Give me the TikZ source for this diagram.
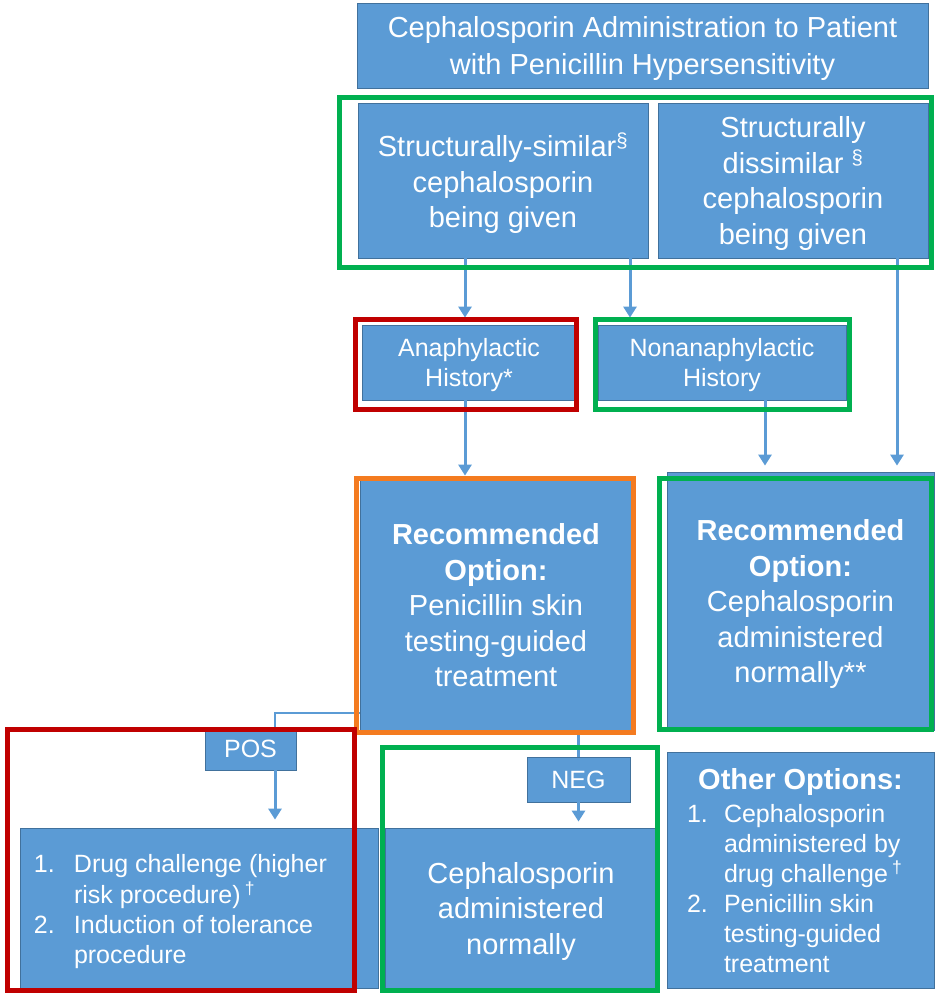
\documentclass[tikz,border=0pt]{standalone}
\usepackage{fontspec}
\setmainfont{Liberation Sans}
\usetikzlibrary{arrows.meta}
\definecolor{boxblue}{HTML}{5B9BD5}
\definecolor{boxline}{HTML}{41719C}
\definecolor{okgreen}{HTML}{00B050}
\definecolor{riskred}{HTML}{C00000}
\definecolor{testorange}{HTML}{F47B20}

\begin{document}
\begin{tikzpicture}[x=1pt, y=-1pt,
    >={Triangle[width=13pt,length=11pt]},
    box/.style={draw=boxline, line width=0.8pt, fill=boxblue, text=white, align=center, inner sep=0pt, text depth=0pt},
    listbox/.style={box, text depth=},
    big/.style={font=\fontsize{29}{35.5}\selectfont},
    small/.style={font=\fontsize{25}{30}\selectfont},
    link/.style={draw=boxblue, line width=3pt},
    frame/.style={line width=5pt}]
    \useasboundingbox (0,0) rectangle (936,994);

    % Cajas
    \node[box, minimum width=571pt, minimum height=85pt, font=\fontsize{29}{37}\selectfont] (title) at (642.5,45.5)
        {Cephalosporin Administration to Patient\\with Penicillin Hypersensitivity};
    \node[box, big, minimum width=290pt, minimum height=155pt] (similar) at (503,180.5)
        {Structurally-similar\textsuperscript{§}\\cephalosporin\\being given};
    \node[box, big, minimum width=270pt, minimum height=155pt] (dissimilar) at (793,180.5)
        {Structurally\\dissimilar \textsuperscript{§}\\cephalosporin\\being given};
    \node[box, small, minimum width=214pt, minimum height=75pt] (anaph) at (469,362.5)
        {Anaphylactic\\History*};
    \node[box, small, minimum width=248pt, minimum height=75pt] (nonanaph) at (722,362.5)
        {Nonanaphylactic\\History};
    \node[box, big, minimum width=272pt, minimum height=250pt] (rec1) at (496,605)
        {\textbf{Recommended}\\\textbf{Option:}\\Penicillin skin\\testing-guided\\treatment};
    \node[box, big, minimum width=267pt, minimum height=258pt] (rec2) at (800.5,601)
        {\textbf{Recommended}\\\textbf{Option:}\\Cephalosporin\\administered\\normally**};
    \node[box, small, minimum width=91pt, minimum height=42pt] (pos) at (250.5,749) {POS};
    \node[box, small, minimum width=103pt, minimum height=45pt] (neg) at (578.5,779.5) {NEG};
    \node[listbox, small, minimum width=358pt, minimum height=160pt] (drug) at (199,908)
        {\raisebox{-4pt}[\height][\depth]{\begin{tabular}{@{}p{40pt}@{}p{290pt}@{}}
        1. & Drug challenge (higher\\
           & risk procedure)\,\textsuperscript{†}\\
        2. & Induction of tolerance\\
           & procedure
        \end{tabular}}};
    \node[box, big, minimum width=272pt, minimum height=160pt] (normal) at (521,908)
        {Cephalosporin\\administered\\normally};
    \node[listbox, small, minimum width=267pt, minimum height=236pt] (other) at (800.5,870)
        {\raisebox{-5pt}[\height][\depth]{\begin{tabular}{@{}p{37pt}@{}p{190pt}@{}}
        \multicolumn{2}{@{}c@{}}{\bfseries\fontsize{29}{34}\selectfont Other Options:}\\[3pt]
        1. & Cephalosporin\\
           & administered by\\
           & drug challenge\,\textsuperscript{†}\\
        2. & Penicillin skin\\
           & testing-guided\\
           & treatment
        \end{tabular}}};

    % Flechas
    \draw[link, ->, shorten >=7pt] (similar.south -| 465,0) -- (anaph.north -| 465,0);
    \draw[link, ->, shorten >=7pt] (similar.south -| 630,0) -- (nonanaph.north -| 630,0);
    \draw[link, ->, shorten >=6pt] (dissimilar.south -| 897,0) -- (rec2.north -| 897,0);
    \draw[link, ->, shorten >=4pt] (anaph.south -| 465,0) -- (rec1.north -| 465,0);
    \draw[link, ->, shorten >=6pt] (nonanaph.south -| 765,0) -- (rec2.north -| 765,0);
    \draw[link, line width=2pt] (rec1.west |- 0,713) -| (pos.north -| 275,0);
    \draw[link, ->, shorten >=8pt] (pos.south -| 275,0) -- (drug.north -| 275,0);
    \draw[link] (rec1.south -| neg) -- (neg.north);
    \draw[link, ->, shorten >=6pt] (neg.south) -- (normal.north -| neg);

    % Marcos
    \draw[okgreen, frame] (339.5,97.5) rectangle (931.5,267.5);
    \draw[riskred, frame] (355.5,319.5) rectangle (576.5,409.5);
    \draw[okgreen, frame] (595.5,319.5) rectangle (849.5,409.5);
    \draw[testorange, frame] (356.5,478.5) rectangle (633.5,732.5);
    \draw[okgreen, frame] (659.5,478.5) rectangle (931.5,729.5);
    \draw[riskred, frame] (7.5,729.5) rectangle (354.5,990.5);
    \draw[okgreen, frame] (382.5,747.5) rectangle (657.5,990.5);
\end{tikzpicture}
\end{document}
